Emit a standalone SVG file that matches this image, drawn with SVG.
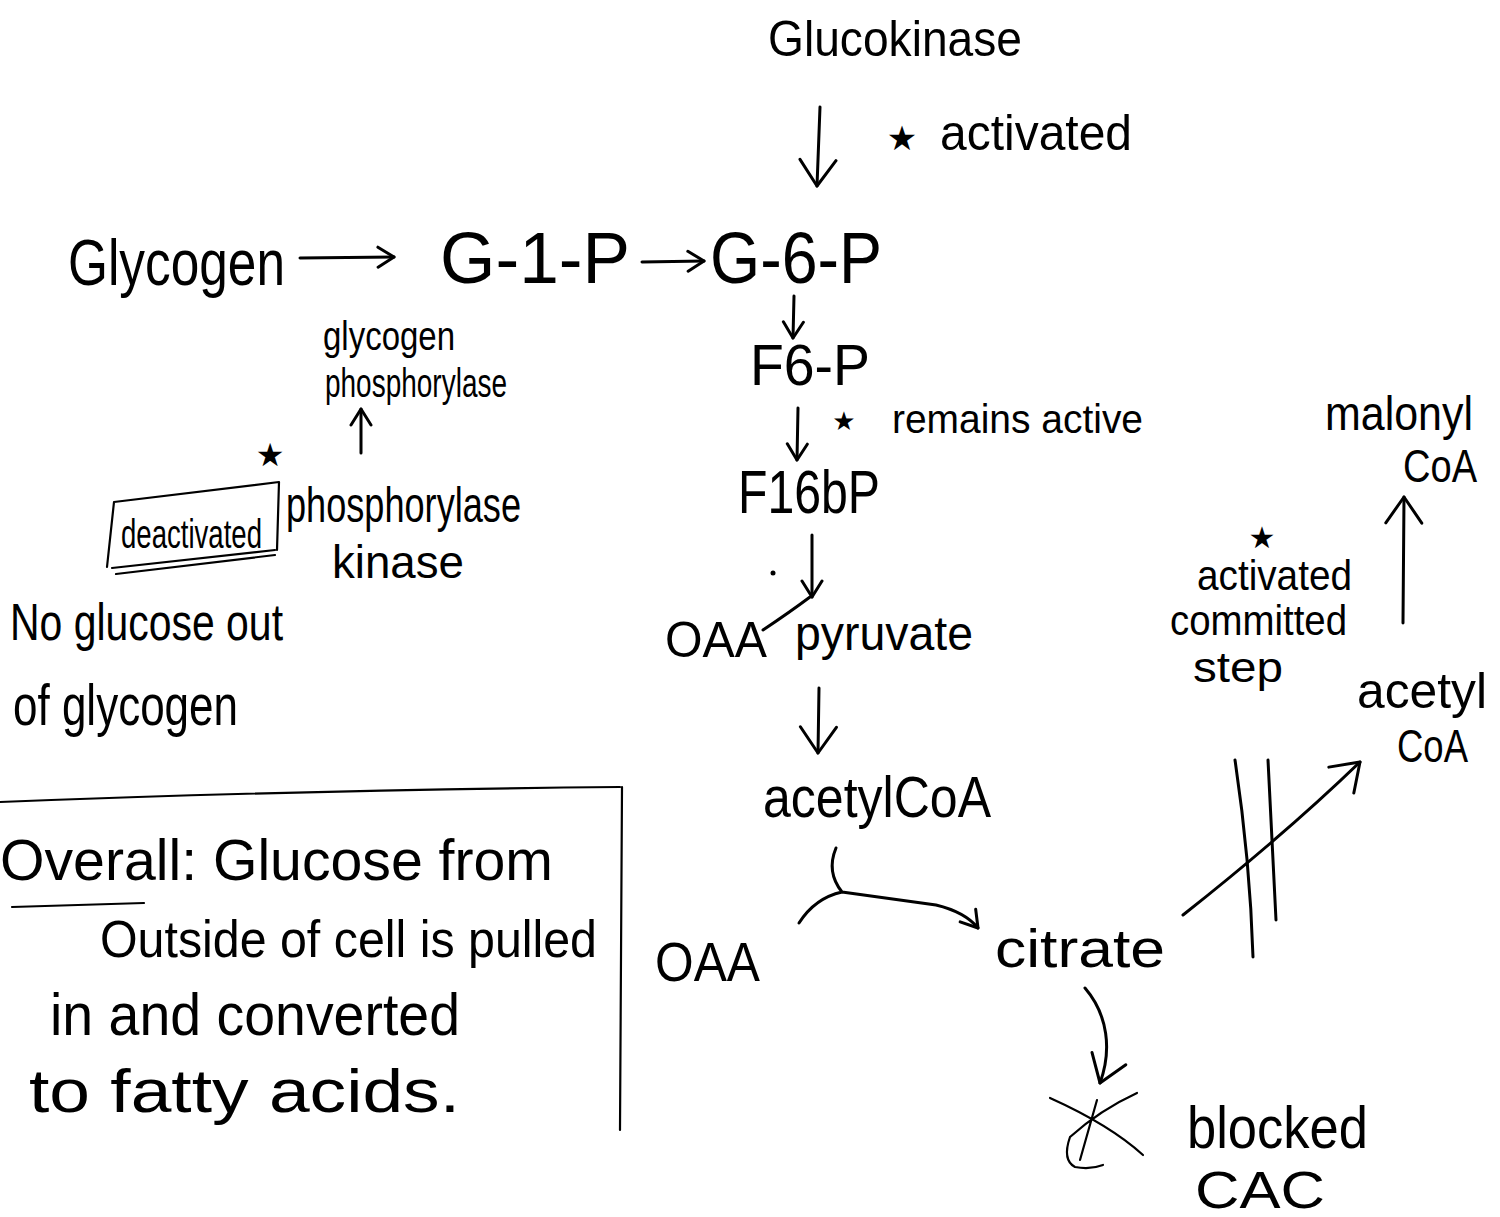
<svg xmlns="http://www.w3.org/2000/svg" width="1500" height="1217" viewBox="0 0 1500 1217">
<style>
.t{font-family:"Liberation Sans",Arial,sans-serif;fill:#000}
.s{font-family:"DejaVu Sans",sans-serif;fill:#000}
.ln{fill:none;stroke:#000;stroke-width:3;stroke-linecap:round;stroke-linejoin:round}
.thin{fill:none;stroke:#000;stroke-width:2.2;stroke-linecap:round;stroke-linejoin:round}
</style>
<defs>
<marker id="ah" viewBox="0 0 30 40" refX="28" refY="20" markerWidth="30" markerHeight="40" markerUnits="userSpaceOnUse" orient="auto">
<path d="M2,2 L28,20 L2,38" fill="none" stroke="#000" stroke-width="3" stroke-linecap="round" stroke-linejoin="round"/>
</marker>
<marker id="as" viewBox="0 0 20 24" refX="18" refY="12" markerWidth="20" markerHeight="24" markerUnits="userSpaceOnUse" orient="auto">
<path d="M2,2 L18,12 L2,22" fill="none" stroke="#000" stroke-width="3" stroke-linecap="round" stroke-linejoin="round"/>
</marker>
</defs>
<rect width="1500" height="1217" fill="#fff"/>

<g id="connectors">
<path class="ln" d="M820,107 L817,186" marker-end="url(#ah)"/>
<path class="ln" d="M300,258 L394,257" marker-end="url(#as)"/>
<path class="ln" d="M642,262 L704,261" marker-end="url(#as)"/>
<path class="ln" d="M794,296 L793,338" marker-end="url(#as)"/>
<path class="ln" d="M798,408 L797,460" marker-end="url(#as)"/>
<path class="ln" d="M812,535 L812,597" marker-end="url(#as)"/>
<path class="ln" d="M763,630 Q790,612 810,597"/>
<path class="ln" d="M819,688 L818,753" marker-end="url(#ah)"/>
<path class="ln" d="M836,848 Q826,872 842,892 M799,923 Q815,898 842,892 Q900,900 936,905 Q965,912 978,928" marker-end="url(#as)"/>
<path class="ln" d="M1085,988 C1108,1015 1112,1050 1100,1083" marker-end="url(#ah)"/>
<path class="ln" d="M1183,915 C1240,870 1300,820 1360,762" marker-end="url(#ah)"/>
<path class="ln" d="M1235,760 Q1250,860 1253,957"/>
<path class="ln" d="M1268,760 L1276,920"/>
<path class="ln" d="M1403,623 L1404,497" marker-end="url(#ah)"/>
<path class="ln" d="M361,453 L361,409" marker-end="url(#as)"/>
</g>

<g id="glucokinase"><text class="t" x="768" y="56" font-size="50" textLength="254" lengthAdjust="spacingAndGlyphs">Glucokinase</text></g>
<g id="note-activated"><text class="s" x="902" y="150" font-size="34" text-anchor="middle">★</text><text class="t" x="940" y="150" font-size="50" textLength="192" lengthAdjust="spacingAndGlyphs">activated</text></g>
<g id="glycogen"><text class="t" x="68" y="285" font-size="64" textLength="217" lengthAdjust="spacingAndGlyphs">Glycogen</text></g>
<g id="g1p"><text class="t" x="440" y="283" font-size="72" textLength="190" lengthAdjust="spacingAndGlyphs">G-1-P</text></g>
<g id="g6p"><text class="t" x="710" y="283" font-size="72" textLength="172" lengthAdjust="spacingAndGlyphs">G-6-P</text></g>
<g id="f6p"><text class="t" x="750" y="385" font-size="58" textLength="120" lengthAdjust="spacingAndGlyphs">F6-P</text></g>
<g id="note-remains"><text class="s" x="844" y="430" font-size="26" text-anchor="middle">★</text><text class="t" x="892" y="433" font-size="40" textLength="251" lengthAdjust="spacingAndGlyphs">remains active</text></g>
<g id="f16bp"><text class="t" x="738" y="513" font-size="62" textLength="142" lengthAdjust="spacingAndGlyphs">F16bP</text></g>
<g id="oaa-top"><circle cx="773" cy="573" r="2.5" fill="#000"/><text class="t" x="665" y="657" font-size="50" textLength="102" lengthAdjust="spacingAndGlyphs">OAA</text></g>
<g id="pyruvate"><text class="t" x="795" y="650" font-size="48" textLength="178" lengthAdjust="spacingAndGlyphs">pyruvate</text></g>
<g id="acetylcoa"><text class="t" x="763" y="817" font-size="58" textLength="228" lengthAdjust="spacingAndGlyphs">acetylCoA</text></g>
<g id="oaa"><text class="t" x="655" y="981" font-size="56" textLength="105" lengthAdjust="spacingAndGlyphs">OAA</text></g>
<g id="citrate"><text class="t" x="995" y="967" font-size="54" textLength="170" lengthAdjust="spacingAndGlyphs">citrate</text></g>
<g id="blocked">
<path class="thin" d="M1050,1098 Q1110,1125 1143,1155 M1137,1093 Q1100,1110 1070,1137 M1097,1100 L1080,1160 M1070,1137 Q1062,1160 1075,1167 Q1090,1170 1103,1165"/>
<text class="t" x="1187" y="1148" font-size="60" textLength="181" lengthAdjust="spacingAndGlyphs">blocked</text>
<text class="t" x="1195" y="1208" font-size="52" textLength="130" lengthAdjust="spacingAndGlyphs">CAC</text>
</g>
<g id="acetylcoa-right"><text class="t" x="1357" y="708" font-size="50" textLength="130" lengthAdjust="spacingAndGlyphs">acetyl</text><text class="t" x="1397" y="762" font-size="46" textLength="71" lengthAdjust="spacingAndGlyphs">CoA</text></g>
<g id="malonylcoa"><text class="t" x="1325" y="430" font-size="48" textLength="148" lengthAdjust="spacingAndGlyphs">malonyl</text><text class="t" x="1403" y="482" font-size="46" textLength="74" lengthAdjust="spacingAndGlyphs">CoA</text></g>
<g id="note-committed"><text class="s" x="1262" y="548" font-size="30" text-anchor="middle">★</text>
<text class="t" x="1197" y="590" font-size="42" textLength="155" lengthAdjust="spacingAndGlyphs">activated</text>
<text class="t" x="1170" y="635" font-size="42" textLength="177" lengthAdjust="spacingAndGlyphs">committed</text>
<text class="t" x="1193" y="682" font-size="42" textLength="90" lengthAdjust="spacingAndGlyphs">step</text></g>
<g id="glycogen-phosphorylase"><text class="t" x="323" y="350" font-size="40" textLength="132" lengthAdjust="spacingAndGlyphs">glycogen</text><text class="t" x="325" y="397" font-size="40" textLength="182" lengthAdjust="spacingAndGlyphs">phosphorylase</text></g>
<g id="phosphorylase-kinase"><text class="s" x="270" y="466" font-size="32" text-anchor="middle">★</text>
<path class="thin" d="M114,502 L279,482 L277,550 M114,502 L107,567 M112,568 L275,550 M116,574 L275,555"/>
<text class="t" x="121" y="548" font-size="40" textLength="141" lengthAdjust="spacingAndGlyphs">deactivated</text>
<text class="t" x="286" y="522" font-size="50" textLength="235" lengthAdjust="spacingAndGlyphs">phosphorylase</text>
<text class="t" x="332" y="578" font-size="46" textLength="132" lengthAdjust="spacingAndGlyphs">kinase</text></g>
<g id="note-glycogen"><text class="t" x="10" y="640" font-size="52" textLength="273" lengthAdjust="spacingAndGlyphs">No glucose out</text><text class="t" x="13" y="725" font-size="58" textLength="225" lengthAdjust="spacingAndGlyphs">of glycogen</text></g>
<g id="overall">
<path class="thin" d="M0,802 Q300,790 620,787 M622,787 L620,1130"/>
<path class="thin" d="M12,907 L144,903"/>
<text class="t" x="0" y="880" font-size="58" textLength="553" lengthAdjust="spacingAndGlyphs">Overall: Glucose from</text>
<text class="t" x="100" y="957" font-size="52" textLength="497" lengthAdjust="spacingAndGlyphs">Outside of cell is pulled</text>
<text class="t" x="50" y="1035" font-size="60" textLength="410" lengthAdjust="spacingAndGlyphs">in and converted</text>
<text class="t" x="29" y="1112" font-size="62" textLength="431" lengthAdjust="spacingAndGlyphs">to fatty acids.</text>
</g>
</svg>
